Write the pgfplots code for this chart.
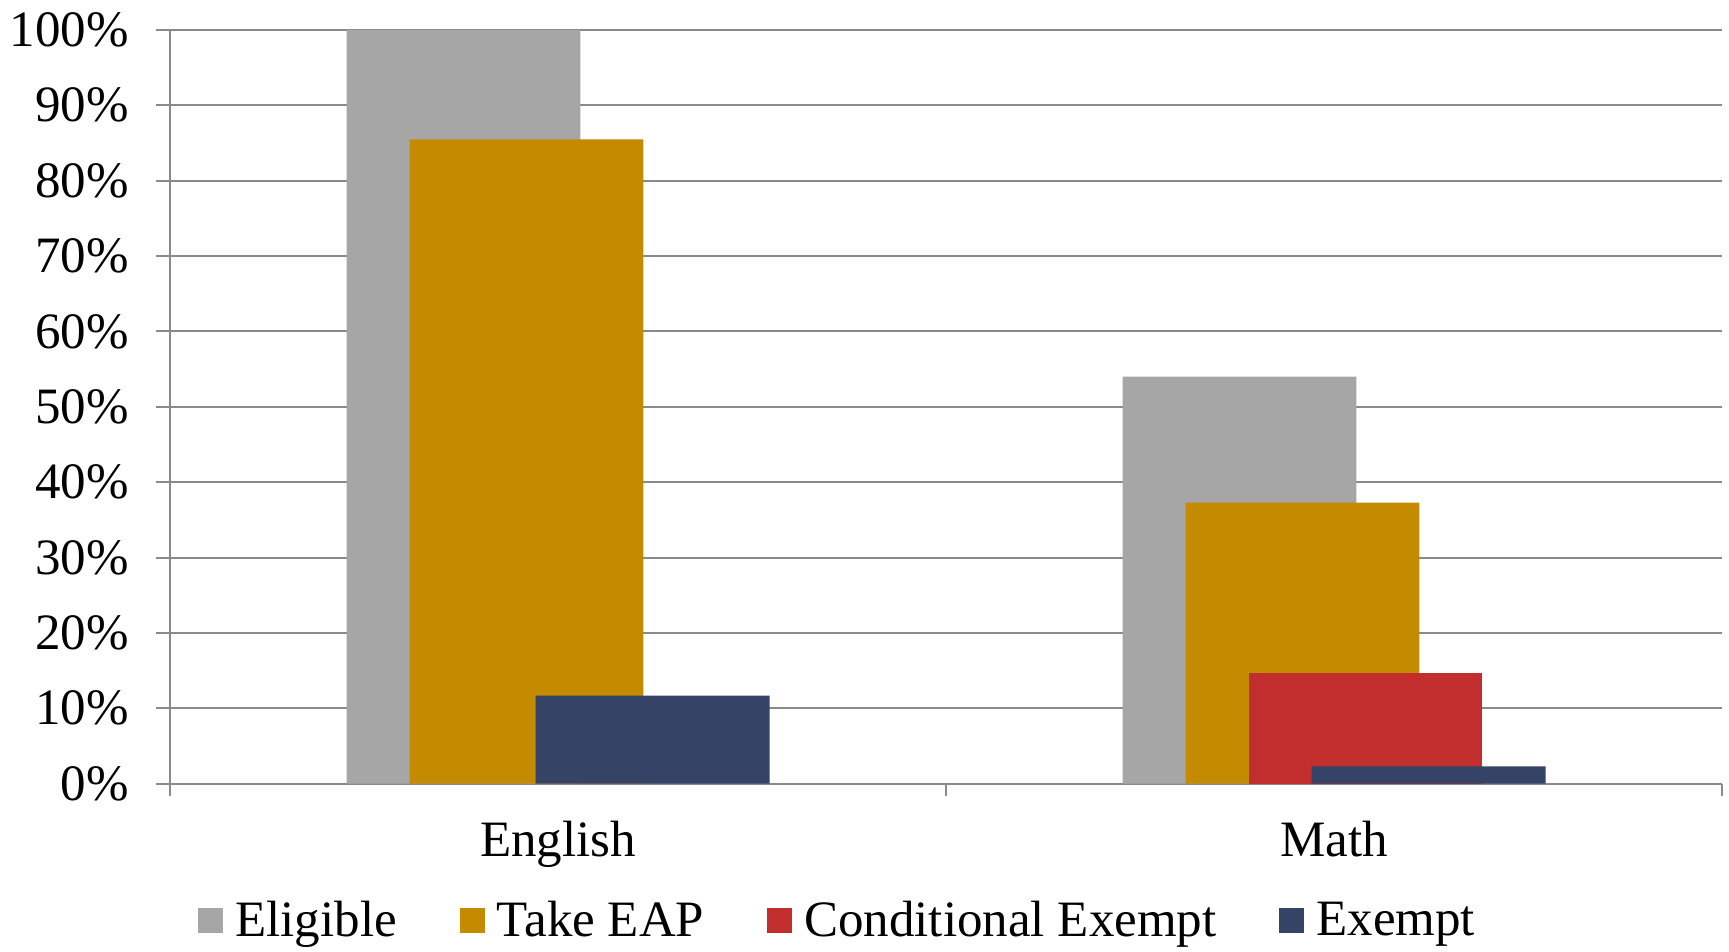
\documentclass[border=0pt]{standalone}
\usepackage{fontspec}
\setmainfont{Liberation Serif}
\usepackage{pgfplots}
\pgfplotsset{compat=1.18}

\definecolor{elig}{RGB}{166,166,166}
\definecolor{eap}{RGB}{196,138,0}
\definecolor{cond}{RGB}{194,45,46}
\definecolor{exem}{RGB}{53,67,102}
\definecolor{gridgray}{RGB}{138,138,138}

\begin{document}
\begin{tikzpicture}
\useasboundingbox (-85pt,-84.15pt) rectangle (779.5pt,391.85pt);
\begin{axis}[
  at={(0,0)}, anchor=south west,
  scale only axis, width=776pt, height=376.85pt,
  xmin=-0.5, xmax=1.5, ymin=0, ymax=100,
  axis x line*=bottom, axis y line*=left,
  axis line style={gridgray, line width=1pt, -},
  ytick={0,10,...,100},
  yticklabel={\pgfmathprintnumber{\tick}\%},
  ymajorgrids, grid style={gridgray, line width=1pt},
  xtick={0,1}, xticklabels={English,Math},
  minor xtick={-0.5,0.5,1.5},
  tick align=outside,
  major tick length=7pt, minor tick length=6pt,
  major x tick style={draw=none},
  minor x tick style={gridgray, line width=1pt},
  y tick style={gridgray, line width=1pt},
  tick label style={font=\fontsize{25.5}{30}\selectfont},
  yticklabel style={xshift=-10pt},
  xticklabel style={yshift=-8pt},
  /pgf/number format/assume math mode=true,
  bar width=0.3015,
  legend columns=4,
  legend style={draw=none, fill=none,
    at={(axis description cs:0.018,-0.181)}, anchor=west,
    font=\fontsize{25.5}{30}\selectfont,
    inner sep=0pt, nodes={inner sep=0pt},
    /tikz/every odd column/.style={column sep=6pt},
    /tikz/every even column/.style={column sep=31.5pt}},
  legend image code/.code={\fill[#1, draw=none] (0pt,-6.25pt) rectangle (12.5pt,6.25pt);},
]
% Eligible
\addplot[ybar, bar shift=-0.1218, fill=elig, draw=none]
  coordinates {(0,100) (1,54.0)};
% Take EAP
\addplot[ybar, bar shift=-0.0406, fill=eap, draw=none]
  coordinates {(0,85.5) (1,37.3)};
% Conditional Exempt (Math only)
\addplot[ybar, bar shift=0.0406, fill=cond, draw=none]
  coordinates {(1,14.7)};
% Exempt
\addplot[ybar, bar shift=0.1218, fill=exem, draw=none]
  coordinates {(0,11.7) (1,2.3)};
\legend{Eligible, Take EAP, Conditional Exempt, Exempt}
\end{axis}
\end{tikzpicture}
\end{document}
